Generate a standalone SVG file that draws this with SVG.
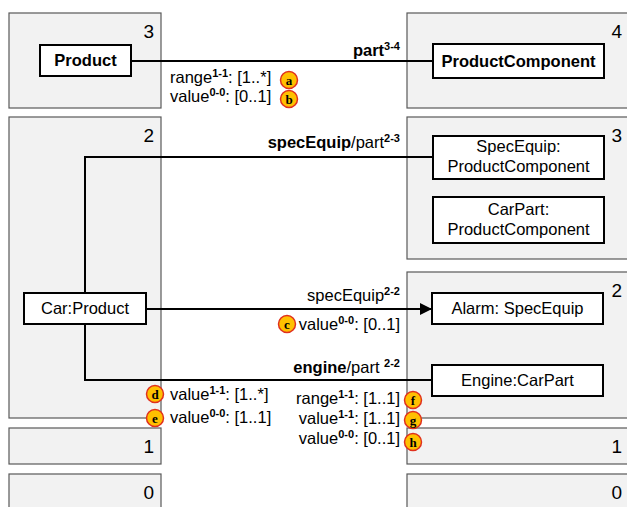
<svg xmlns="http://www.w3.org/2000/svg" width="627" height="507" viewBox="0 0 627 507">
<defs>
<style>
.panel{fill:#f2f2f2;stroke:#595959;stroke-width:1.2}
.box{fill:#fff;stroke:#000;stroke-width:2}
.num{font-family:"Liberation Sans",Arial,sans-serif;font-size:19px;fill:#000;text-anchor:end}
.t{font-family:"Liberation Sans",Arial,sans-serif;font-size:16.5px;fill:#000}
.b{font-weight:bold}
.c{text-anchor:middle}
.e{text-anchor:end}
.sup{font-size:11px;font-weight:bold}
.conn{fill:none;stroke:#000;stroke-width:2}
.mk{fill:#ffc000;stroke:#e0301e;stroke-width:1.5}
.ml{font-family:"Liberation Serif","Times New Roman",serif;font-weight:bold;font-size:13px;fill:#000;text-anchor:middle}
</style>
<marker id="arr" viewBox="0 0 10 10" refX="10" refY="5" markerWidth="12" markerHeight="12" markerUnits="userSpaceOnUse" orient="auto">
<path d="M0,0 L10,5 L0,10 z" fill="#000"/>
</marker>
</defs>
<g id="panels">
<rect class="panel" x="9" y="13" width="152" height="95"/>
<rect class="panel" x="9" y="117" width="152" height="301"/>
<rect class="panel" x="9" y="428" width="152" height="36"/>
<rect class="panel" x="9" y="474" width="152" height="40"/>
<rect class="panel" x="407" y="13" width="240" height="95"/>
<rect class="panel" x="407" y="117" width="240" height="142"/>
<rect class="panel" x="407" y="272" width="240" height="146"/>
<rect class="panel" x="407" y="428" width="240" height="36"/>
<rect class="panel" x="407" y="474" width="240" height="40"/>
<text class="num" x="154" y="38">3</text>
<text class="num" x="154" y="142">2</text>
<text class="num" x="154" y="453">1</text>
<text class="num" x="154" y="499">0</text>
<text class="num" x="622" y="38">4</text>
<text class="num" x="622" y="142">3</text>
<text class="num" x="622" y="297">2</text>
<text class="num" x="622" y="453">1</text>
<text class="num" x="622" y="499">0</text>
</g>
<g id="connectors">
<path class="conn" d="M131,61 H433"/>
<path class="conn" d="M85,293 V157 H433"/>
<path class="conn" d="M146,309 H432" marker-end="url(#arr)"/>
<path class="conn" d="M85,324 V380 H432"/>
<text class="t e" x="400" y="56"><tspan class="b">part</tspan><tspan class="sup" dy="-6">3-4</tspan></text>
<text class="t e" x="400" y="148"><tspan class="b">specEquip</tspan>/part<tspan class="sup" dy="-6">2-3</tspan></text>
<text class="t e" x="400" y="301">specEquip<tspan class="sup" dy="-6">2-2</tspan></text>
<text class="t e" x="400" y="373"><tspan class="b">engine</tspan>/part <tspan class="sup" dy="-6">2-2</tspan></text>
</g>
<g id="annotations">
<text class="t" x="170" y="83">range<tspan class="sup" dy="-6">1-1</tspan><tspan dy="6">: [1..*]</tspan></text>
<text class="t" x="170" y="102">value<tspan class="sup" dy="-6">0-0</tspan><tspan dy="6">: [0..1]</tspan></text>
<text class="t e" x="400" y="330">value<tspan class="sup" dy="-6">0-0</tspan><tspan dy="6">: [0..1]</tspan></text>
<text class="t" x="170" y="400">value<tspan class="sup" dy="-6">1-1</tspan><tspan dy="6">: [1..*]</tspan></text>
<text class="t" x="170" y="423">value<tspan class="sup" dy="-6">0-0</tspan><tspan dy="6">: [1..1]</tspan></text>
<text class="t e" x="400" y="404">range<tspan class="sup" dy="-6">1-1</tspan><tspan dy="6">: [1..1]</tspan></text>
<text class="t e" x="400" y="424">value<tspan class="sup" dy="-6">1-1</tspan><tspan dy="6">: [1..1]</tspan></text>
<text class="t e" x="400" y="444">value<tspan class="sup" dy="-6">0-0</tspan><tspan dy="6">: [0..1]</tspan></text>
<circle class="mk" cx="289" cy="80" r="8.5"/><text class="ml" x="289" y="84.5">a</text>
<circle class="mk" cx="289" cy="99" r="8.5"/><text class="ml" x="289" y="103.5">b</text>
<circle class="mk" cx="287" cy="324" r="8.5"/><text class="ml" x="287" y="328.5">c</text>
<circle class="mk" cx="155" cy="394" r="8.5"/><text class="ml" x="155" y="398.5">d</text>
<circle class="mk" cx="155" cy="418" r="8.5"/><text class="ml" x="155" y="422.5">e</text>
<circle class="mk" cx="413" cy="400" r="8.5"/><text class="ml" x="413" y="404.5">f</text>
<circle class="mk" cx="413" cy="420" r="8.5"/><text class="ml" x="413" y="424.5">g</text>
<circle class="mk" cx="413" cy="442" r="8.5"/><text class="ml" x="413" y="446.5">h</text>
</g>
<g id="node-product"><rect class="box" x="40" y="45" width="91" height="31"/><text class="t b c" x="85.5" y="66">Product</text></g>
<g id="node-productcomponent"><rect class="box" x="433" y="44" width="171" height="34"/><text class="t b c" x="518.5" y="67">ProductComponent</text></g>
<g id="node-specequip"><rect class="box" x="433" y="136" width="171" height="43"/><text class="t c" x="518.5" y="152">SpecEquip:</text><text class="t c" x="518.5" y="172">ProductComponent</text></g>
<g id="node-carpart"><rect class="box" x="433" y="197" width="171" height="46"/><text class="t c" x="518.5" y="215">CarPart:</text><text class="t c" x="518.5" y="235">ProductComponent</text></g>
<g id="node-car"><rect class="box" x="24" y="293" width="122" height="31"/><text class="t c" x="85" y="314">Car:Product</text></g>
<g id="node-alarm"><rect class="box" x="432" y="293" width="171" height="31"/><text class="t c" x="517.5" y="314">Alarm: SpecEquip</text></g>
<g id="node-engine"><rect class="box" x="432" y="365" width="171" height="31"/><text class="t c" x="517.5" y="386">Engine:CarPart</text></g>
</svg>
